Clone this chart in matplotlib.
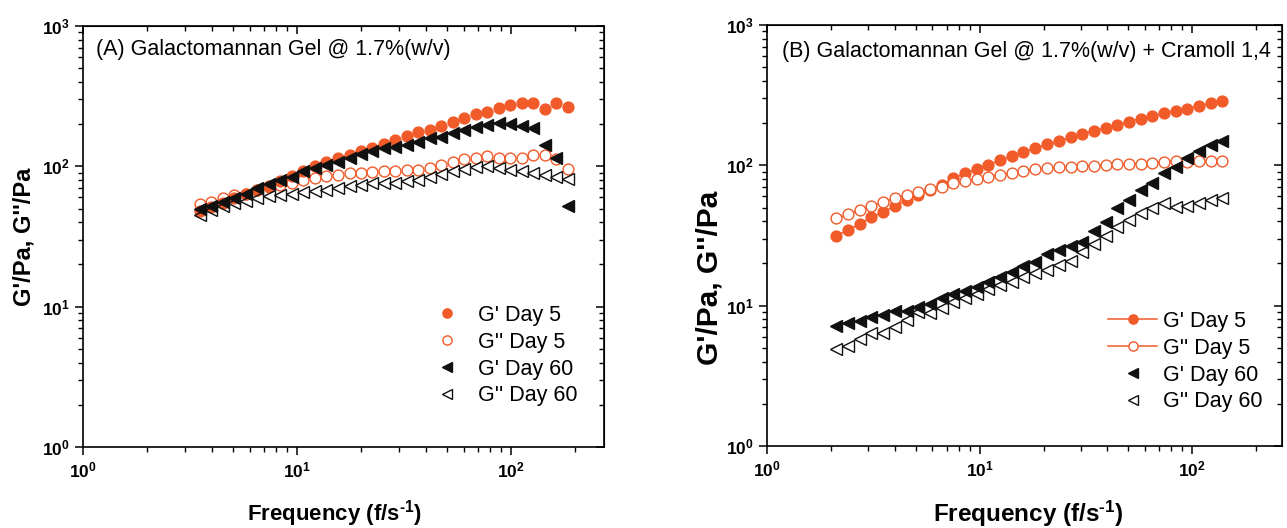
import numpy as np
import matplotlib
matplotlib.use('Agg')
import matplotlib.pyplot as plt
from matplotlib.ticker import LogLocator, FuncFormatter, NullFormatter

plt.rcParams['font.family'] = ['Liberation Sans', 'DejaVu Sans']
plt.rcParams['mathtext.fontset'] = 'custom'
plt.rcParams['mathtext.rm'] = 'Liberation Sans:bold'
plt.rcParams['mathtext.it'] = 'Liberation Sans:bold'
plt.rcParams['mathtext.bf'] = 'Liberation Sans:bold'
plt.rcParams['axes.unicode_minus'] = False

# ---------------- Panel A data ----------------
freq_a = [3.52, 3.98, 4.51, 5.10, 5.77, 6.53, 7.39, 8.36, 9.46, 10.7, 12.1,
          13.7, 15.5, 17.6, 19.9, 22.5, 25.4, 28.8, 32.6, 36.9, 41.7, 47.2,
          53.4, 60.4, 68.4, 77.4, 87.5, 99.1, 112, 127, 144, 162, 184]
g1_d5_a = [48, 51, 55, 59, 63, 68, 73, 79, 86, 93, 100, 107, 114, 121, 128,
           136, 145, 155, 165, 175, 183, 194, 206, 220, 235, 245, 260, 274,
           281, 281, 255, 281, 264]
g2_d5_a = [54, 56, 59, 62, 64, 68, 71, 74, 76, 80, 82, 85, 87, 89, 89, 91,
           92, 92, 94, 94, 98, 102, 108, 112, 114, 119, 114, 114, 114, 121,
           121, 112, 96]
g1_d60_a = [50, 52, 56, 59, 64, 70, 75, 80, 84.5, 92, 98, 102, 108, 114, 122,
            129, 134, 138, 142, 150, 158, 163, 172, 182, 190, 197, 203, 199,
            194, 187, 142, 114, 52]
g2_d60_a = [45, 49, 52, 54.6, 56.7, 59, 61, 62.5, 64, 66, 67, 68, 70, 72, 74,
            76, 76, 76, 78, 80, 84, 88, 92, 95, 99.5, 101, 97, 94, 92, 89, 87,
            84, 81]

# ---------------- Panel B data ----------------
freq_b = [2.12, 2.41, 2.73, 3.10, 3.52, 4.00, 4.54, 5.15, 5.84, 6.63, 7.53,
          8.55, 9.70, 11.0, 12.5, 14.2, 16.1, 18.3, 20.8, 23.6, 26.8, 30.4,
          34.5, 39.2, 44.5, 50.5, 57.3, 65.0, 73.8, 83.8, 95.1, 108, 123, 139]
g1_d5_b = [31.5, 34.6, 38.2, 42.6, 46.4, 51.3, 56.6, 61.4, 66.5, 72.4, 80.7,
           87.7, 93.6, 100.4, 109, 117, 125, 132, 141, 149, 158, 167, 177,
           185, 194, 205, 215, 225, 235, 245, 253, 266, 277, 287]
g2_d5_b = [41.9, 44.8, 48, 51.3, 55, 58.2, 61.4, 64.8, 67.8, 70.4, 74.4, 77.3,
           79.9, 82.9, 85.3, 87.7, 90.5, 93.5, 95.3, 96.9, 97.8, 98.9, 99.4,
           100.4, 102, 103, 103, 104.5, 106, 107, 106, 107, 107, 107]
g1_d60_b = [7.16, 7.56, 7.8, 8.25, 8.57, 9.16, 9.2, 9.73, 10.3, 11.4, 12.1,
            12.8, 13.6, 14.8, 16.1, 17.5, 19.2, 20.6, 23.3, 24.9, 26.6, 28.4,
            34, 39.6, 49.3, 56.6, 66.7, 74.4, 87.7, 96.9, 112, 127, 140, 149]
g2_d60_b = [4.89, 5.15, 5.75, 6.35, 6.35, 7.08, 7.89, 9.06, 8.9, 9.57, 10.7,
            11.3, 12.2, 13.1, 14, 14.8, 16.1, 17, 18.1, 19.5, 20.9, 24.2, 27.4,
            31.5, 36.5, 40.7, 45.5, 49.4, 54, 50.7, 51.3, 53.6, 56.6, 58.2]

labels = ["G' Day 5", "G'' Day 5", "G' Day 60", "G'' Day 60"]
title_a = "(A) Galactomannan Gel @ 1.7%(w/v)"
title_b = "(B) Galactomannan Gel @ 1.7%(w/v) + Cramoll 1,4"
xlabel = r"Frequency (f/s$^{\text{-1}}$)"
ylabel = "G'/Pa, G''/Pa"

ORANGE = '#F15A29'
W, H = 1287, 528
fig = plt.figure(figsize=(W / 100, H / 100), dpi=100)


def px_rect(x0, y0, x1, y1):
    return [x0 / W, 1 - y1 / H, (x1 - x0) / W, (y1 - y0) / H]


ax_a = fig.add_axes(px_rect(83, 26, 604, 447))
ax_b = fig.add_axes(px_rect(767, 25, 1282, 446))


def style_axes(ax, xmax):
    ax.set_xscale('log')
    ax.set_yscale('log')
    ax.set_xlim(1, xmax)
    ax.set_ylim(1, 1000)
    for sp in ax.spines.values():
        sp.set_linewidth(1.2)
    for axis in (ax.xaxis, ax.yaxis):
        axis.set_major_locator(LogLocator(base=10, numticks=10))
        axis.set_minor_locator(LogLocator(base=10, subs=np.arange(2, 10), numticks=20))
        axis.set_major_formatter(FuncFormatter(lambda v, _: r'$10^{%d}$' % int(round(np.log10(v)))))
        axis.set_minor_formatter(NullFormatter())
    ax.tick_params(which='major', length=6, width=1.1, labelsize=12.5)
    ax.tick_params(which='minor', length=3.5, width=1.0)
    ax.tick_params(axis='x', which='both', direction='out', top=False)
    ax.tick_params(axis='y', which='both', direction='out', right=False)
    # mirrored ticks pointing inwards on top/right
    sec_x = ax.secondary_xaxis('top')
    sec_x.set_xscale('log')
    sec_x.xaxis.set_major_locator(LogLocator(base=10, numticks=10))
    sec_x.xaxis.set_minor_locator(LogLocator(base=10, subs=np.arange(2, 10), numticks=20))
    sec_x.xaxis.set_major_formatter(NullFormatter())
    sec_x.xaxis.set_minor_formatter(NullFormatter())
    sec_x.tick_params(which='major', direction='in', length=6, width=1.1)
    sec_x.tick_params(which='minor', direction='in', length=3.5, width=1.0)
    sec_y = ax.secondary_yaxis('right')
    sec_y.set_yscale('log')
    sec_y.yaxis.set_major_locator(LogLocator(base=10, numticks=10))
    sec_y.yaxis.set_minor_locator(LogLocator(base=10, subs=np.arange(2, 10), numticks=20))
    sec_y.yaxis.set_major_formatter(NullFormatter())
    sec_y.yaxis.set_minor_formatter(NullFormatter())
    sec_y.tick_params(which='major', direction='in', length=6, width=1.1)
    sec_y.tick_params(which='minor', direction='in', length=3.5, width=1.0)


style_axes(ax_a, 272)
style_axes(ax_b, 265)

# ---- Panel A: markers only ----
ha = []
ha.append(ax_a.plot(freq_a, g1_d5_a, ls='none', marker='o', ms=7.8, mfc=ORANGE, mec=ORANGE, label=labels[0])[0])
ha.append(ax_a.plot(freq_a, g2_d5_a, ls='none', marker='o', ms=7.8, mfc='none', mec=ORANGE, mew=1.0, label=labels[1])[0])
ha.append(ax_a.plot(freq_a, g1_d60_a, ls='none', marker='<', ms=8.5, mfc='#111111', mec='#111111', label=labels[2])[0])
ha.append(ax_a.plot(freq_a, g2_d60_a, ls='none', marker='<', ms=8.5, mfc='none', mec='#111111', mew=1.0, label=labels[3])[0])

# ---- Panel B: Day 5 with lines ----
hb = []
hb.append(ax_b.plot(freq_b, g1_d5_b, ls='-', lw=1.1, color=ORANGE, marker='o', ms=7.8, mfc=ORANGE, mec=ORANGE, label=labels[0])[0])
hb.append(ax_b.plot(freq_b, g2_d5_b, ls='-', lw=1.1, color=ORANGE, marker='o', ms=7.8, mfc='white', mec=ORANGE, mew=1.0, label=labels[1])[0])
hb.append(ax_b.plot(freq_b, g1_d60_b, ls='none', marker='<', ms=8.3, mfc='#111111', mec='#111111', label=labels[2])[0])
hb.append(ax_b.plot(freq_b, g2_d60_b, ls='none', marker='<', ms=8.3, mfc='none', mec='#111111', mew=1.0, label=labels[3])[0])

fs = 15.5
ax_a.legend(handles=ha, loc='upper left', bbox_to_anchor=(436 / W, 1 - 305 / H),
            bbox_transform=fig.transFigure, frameon=False, fontsize=fs,
            handlelength=1.0, handletextpad=0.95, labelspacing=0.27,
            borderpad=0, borderaxespad=0, markerscale=0.85)
ax_b.legend(handles=hb, loc='upper left', bbox_to_anchor=(1108 / W, 1 - 311 / H),
            bbox_transform=fig.transFigure, frameon=False, fontsize=fs,
            handlelength=2.28, handletextpad=0.28, labelspacing=0.27,
            borderpad=0, borderaxespad=0, markerscale=0.85)

fig.text(96 / W, 1 - 50 / H, title_a, fontsize=15.5, va='center', ha='left')
fig.text(782 / W, 1 - 52 / H, title_b, fontsize=15.5, va='center', ha='left')

fig.text(334 / W, 1 - 514 / H, xlabel, fontsize=16, fontweight='bold', ha='center', va='center')
fig.text(1028 / W, 1 - 514 / H, xlabel, fontsize=17.5, fontweight='bold', ha='center', va='center')
fig.text(24 / W, 1 - 237 / H, ylabel, fontsize=17, fontweight='bold', rotation=90, ha='center', va='center')
fig.text(710 / W, 1 - 278 / H, ylabel, fontsize=21.5, fontweight='bold', rotation=90, ha='center', va='center')

fig.savefig('out.png', dpi=100)
